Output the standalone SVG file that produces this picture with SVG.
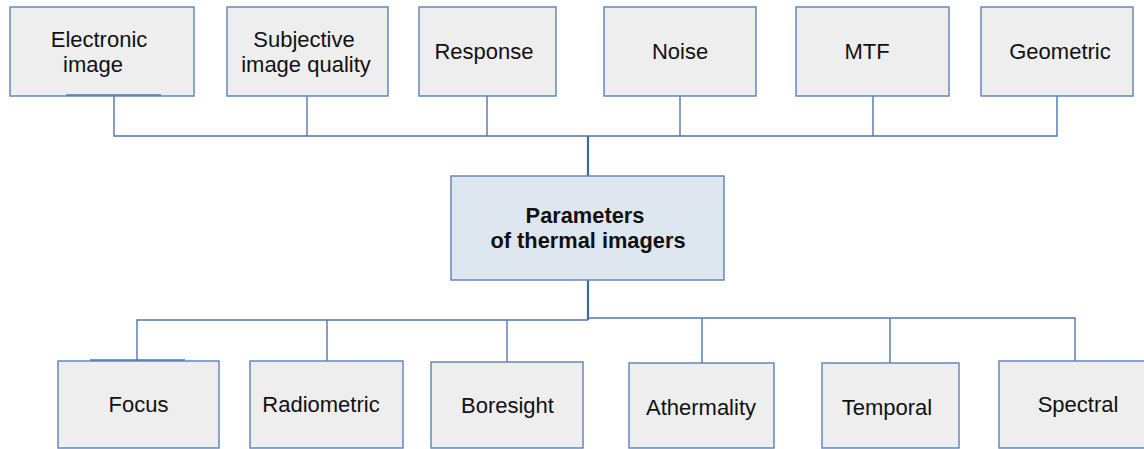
<svg xmlns="http://www.w3.org/2000/svg" width="1144" height="449" viewBox="0 0 1144 449">
  <style>
    .box { fill: #eeeeee; stroke: #5a80bb; stroke-width: 1.4; }
    .hub { fill: #dee6f0; stroke: #5a80bb; stroke-width: 1.4; }
    .lbl { font-family: "Liberation Sans", Arial, sans-serif; font-size: 22px; fill: #111111; text-anchor: middle; }
    .hubl { font-family: "Liberation Sans", Arial, sans-serif; font-size: 21.8px; font-weight: bold; fill: #111111; text-anchor: middle; }
    .wire { fill: none; stroke: #4f77b3; stroke-width: 1.4; }
    .trunk { fill: none; stroke: #3d68a8; stroke-width: 2.2; }
  </style>
  <rect width="1144" height="449" fill="#ffffff"/>

  <!-- connectors -->
  <g id="connectors">
    <!-- upper tree -->
    <path class="wire" d="M114 96 V136 H1057 V96"/>
    <path class="wire" d="M307 96 V136"/>
    <path class="wire" d="M487 96 V136"/>
    <path class="wire" d="M680 96 V136"/>
    <path class="wire" d="M873 96 V136"/>
    <path class="trunk" d="M588 136 V176"/>
    <!-- lower tree -->
    <path class="trunk" d="M588 280 V320"/>
    <path class="wire" d="M588 320 H137 V361"/>
    <path class="wire" d="M327 320 V361"/>
    <path class="wire" d="M507 320 V362"/>
    <path class="wire" d="M588 318 H1075 V361"/>
    <path class="wire" d="M702 318 V363"/>
    <path class="wire" d="M890 318 V363"/>
  </g>

  <!-- top row -->
  <g id="node-electronic-image">
    <rect class="box" x="10" y="7" width="184" height="89"/>
    <line class="wire" x1="66" y1="95" x2="161" y2="95"/>
    <text class="lbl" x="99" y="47">Electronic</text>
    <text class="lbl" x="93" y="72">image</text>
  </g>
  <g id="node-subjective">
    <rect class="box" x="227" y="7" width="161" height="89"/>
    <text class="lbl" x="304" y="47">Subjective</text>
    <text class="lbl" x="306" y="72">image quality</text>
  </g>
  <g id="node-response">
    <rect class="box" x="419" y="7" width="137" height="89"/>
    <text class="lbl" x="484" y="59">Response</text>
  </g>
  <g id="node-noise">
    <rect class="box" x="604" y="7" width="152" height="89"/>
    <text class="lbl" x="680" y="59">Noise</text>
  </g>
  <g id="node-mtf">
    <rect class="box" x="796" y="7" width="153" height="89"/>
    <text class="lbl" x="867" y="59">MTF</text>
  </g>
  <g id="node-geometric">
    <rect class="box" x="981" y="7" width="152" height="89"/>
    <text class="lbl" x="1060" y="59">Geometric</text>
  </g>

  <!-- hub -->
  <g id="node-parameters">
    <rect class="hub" x="451" y="176" width="273" height="104"/>
    <text class="hubl" x="585" y="223">Parameters</text>
    <text class="hubl" x="588" y="248">of thermal imagers</text>
  </g>

  <!-- bottom row -->
  <g id="node-focus">
    <rect class="box" x="58" y="361" width="161" height="87"/>
    <line class="wire" x1="90" y1="360" x2="185" y2="360"/>
    <text class="lbl" x="138.5" y="412">Focus</text>
  </g>
  <g id="node-radiometric">
    <rect class="box" x="250" y="361" width="153" height="87"/>
    <text class="lbl" x="321" y="412">Radiometric</text>
  </g>
  <g id="node-boresight">
    <rect class="box" x="431" y="362" width="152" height="86"/>
    <text class="lbl" x="507.5" y="413">Boresight</text>
  </g>
  <g id="node-athermality">
    <rect class="box" x="629" y="363" width="145" height="85"/>
    <text class="lbl" x="701" y="415">Athermality</text>
  </g>
  <g id="node-temporal">
    <rect class="box" x="822" y="363" width="137" height="85"/>
    <text class="lbl" x="887" y="415">Temporal</text>
  </g>
  <g id="node-spectral">
    <rect class="box" x="999" y="361" width="150" height="87"/>
    <text class="lbl" x="1078" y="412">Spectral</text>
  </g>
</svg>
